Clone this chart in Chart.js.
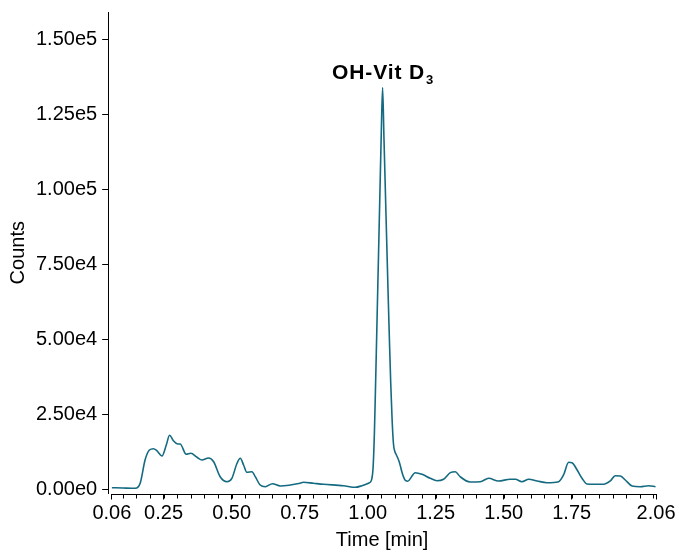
<!DOCTYPE html>
<html>
<head>
<meta charset="utf-8">
<script src="https://cdn.jsdelivr.net/npm/chart.js@4"></script>
<style>
html,body{margin:0;padding:0;background:#fff;}
#wrap{width:679px;height:552px;position:relative;}
</style>
</head>
<body>
<div id="wrap"><canvas id="c" width="679" height="552"></canvas></div>
<script>
// ---- data ----
const times = [0.060,0.100,0.146,0.164,0.182,0.198,0.213,0.225,0.244,0.260,0.272,0.286,0.303,0.311,0.333,0.350,0.373,0.391,0.415,0.434,0.458,0.483,0.501,0.520,0.532,0.544,0.556,0.575,0.587,0.605,0.624,0.650,0.679,0.716,0.752,0.764,0.801,0.838,0.911,0.955,0.979,1.005,1.010,1.015,1.020,1.025,1.030,1.035,1.040,1.045,1.050,1.055,1.060,1.065,1.070,1.075,1.080,1.085,1.090,1.095,1.100,1.105,1.110,1.115,1.120,1.125,1.130,1.135,1.140,1.147,1.175,1.200,1.230,1.255,1.279,1.304,1.322,1.340,1.377,1.414,1.445,1.481,1.524,1.543,1.567,1.592,1.623,1.659,1.702,1.720,1.739,1.751,1.770,1.788,1.806,1.831,1.867,1.892,1.910,1.929,1.947,1.972,2.002,2.033,2.058];
const counts = [430,330,230,1900,9670,13000,13440,12770,11000,14670,17900,16100,15000,15000,11570,11900,10570,9670,10340,9100,4100,2430,3570,8570,10240,8000,5570,5770,4100,1330,770,1770,1000,1330,1900,2230,1900,1570,1100,570,1100,2000,2300,3300,7000,19000,38000,58000,78000,98000,118000,133800,117000,100000,83000,66000,50000,35000,23000,15000,12500,11500,10500,9300,7800,6000,4500,3400,2800,2600,5440,4900,3570,2770,3240,5440,5770,4100,2330,2430,3570,2670,3240,3240,2430,3240,2670,2100,2430,4670,8900,8770,6340,3570,1670,1570,1570,2670,4440,4340,3000,1000,770,1100,770];
const xLabelTicks = [0.06,0.25,0.50,0.75,1.00,1.25,1.50,1.75,2.06];
const yTicks = [0,25000,50000,75000,100000,125000,150000];
const peakLabel = "OH-Vit D";
const peakLabelSub = "3";
const xTitle = "Time [min]";
const yTitle = "Counts";

const FONT = "'Liberation Sans', Arial, Helvetica, sans-serif";
const LINE = '#146a80';

const points = times.map((t,i)=>({x:t,y:counts[i]}));

const xAxisDecor = {
  id:'xAxisDecor',
  afterDraw(chart){
    const xs = chart.scales.x;
    const ctx = chart.ctx;
    ctx.save();
    ctx.strokeStyle = '#000';
    ctx.lineWidth = 1;
    const y0 = Math.round(xs.top) + 0.5;
    const first = xLabelTicks[0], last = xLabelTicks[xLabelTicks.length-1];
    // axis line spanning the time range
    ctx.beginPath();
    ctx.moveTo(xs.getPixelForValue(first), y0);
    ctx.lineTo(xs.getPixelForValue(last), y0);
    ctx.stroke();
    // minor ticks every 0.05 min
    for(let k=2;k<=41;k++){
      const v = k*0.05;
      if (v < first || v > last) continue;
      const px = Math.round(xs.getPixelForValue(v))+0.5;
      ctx.beginPath();
      ctx.moveTo(px,y0);
      ctx.lineTo(px,y0+4);
      ctx.stroke();
    }
    ctx.restore();
  }
};

const peakText = {
  id:'peakText',
  afterDatasetsDraw(chart){
    let mi = 0;
    counts.forEach((c,i)=>{ if(c>counts[mi]) mi=i; });
    const px = chart.scales.x.getPixelForValue(times[mi]);
    const py = chart.scales.y.getPixelForValue(counts[mi]);
    const ctx = chart.ctx;
    ctx.save();
    ctx.fillStyle = '#000';
    ctx.textBaseline = 'alphabetic';
    try { ctx.letterSpacing = '0.9px'; } catch(e) {}
    ctx.font = "bold 21px " + FONT;
    const w1 = ctx.measureText(peakLabel).width;
    ctx.font = "bold 13px " + FONT;
    const w2 = ctx.measureText(peakLabelSub).width;
    const start = px - (w1 + w2)/2;
    const base = py - 9;
    ctx.font = "bold 21px " + FONT;
    ctx.textAlign = 'left';
    ctx.fillText(peakLabel, start, base);
    ctx.font = "bold 13px " + FONT;
    ctx.fillText(peakLabelSub, start + w1 + 1, base + 5);
    ctx.restore();
  }
};

new Chart(document.getElementById('c'), {
  type:'line',
  data:{ datasets:[{
    data: points,
    borderColor: LINE,
    borderWidth: 1.6,
    pointRadius: 0,
    fill: false,
    cubicInterpolationMode: 'monotone'
  }]},
  options:{
    responsive:false,
    animation:false,
    devicePixelRatio:1,
    layout:{ padding:{ left:2, top:12, right:18, bottom:0 } },
    plugins:{ legend:{display:false}, tooltip:{enabled:false} },
    scales:{
      x:{
        type:'linear',
        min:0.0464, max:2.06,
        afterBuildTicks(scale){ scale.ticks = xLabelTicks.map(v=>({value:v})); },
        ticks:{
          color:'#000', padding:3.5, maxRotation:0, autoSkip:false,
          font:{ family:FONT, size:20, lineHeight:1.0 },
          callback:(v)=>Number(v).toFixed(2)
        },
        grid:{ drawOnChartArea:false, drawTicks:true, tickLength:6, tickColor:'#000', tickWidth:1 },
        border:{ display:false },
        title:{ display:true, text:xTitle, color:'#000', font:{ family:FONT, size:20 }, padding:{top:1.5,bottom:0} }
      },
      y:{
        type:'linear',
        min:-1500, max:159000,
        afterBuildTicks(scale){ scale.ticks = yTicks.map(v=>({value:v})); },
        ticks:{
          color:'#000', padding:5,
          font:{ family:FONT, size:20, lineHeight:0.7 },
          callback:(v)=>Number(v).toExponential(2).replace('e+','e')
        },
        grid:{ drawOnChartArea:false, drawTicks:true, tickLength:6, tickColor:'#000', tickWidth:1 },
        border:{ display:true, color:'#000', width:1 },
        title:{ display:true, text:yTitle, color:'#000', font:{ family:FONT, size:20 }, padding:{top:4,bottom:1} }
      }
    }
  },
  plugins:[xAxisDecor, peakText]
});
</script>
</body>
</html>
